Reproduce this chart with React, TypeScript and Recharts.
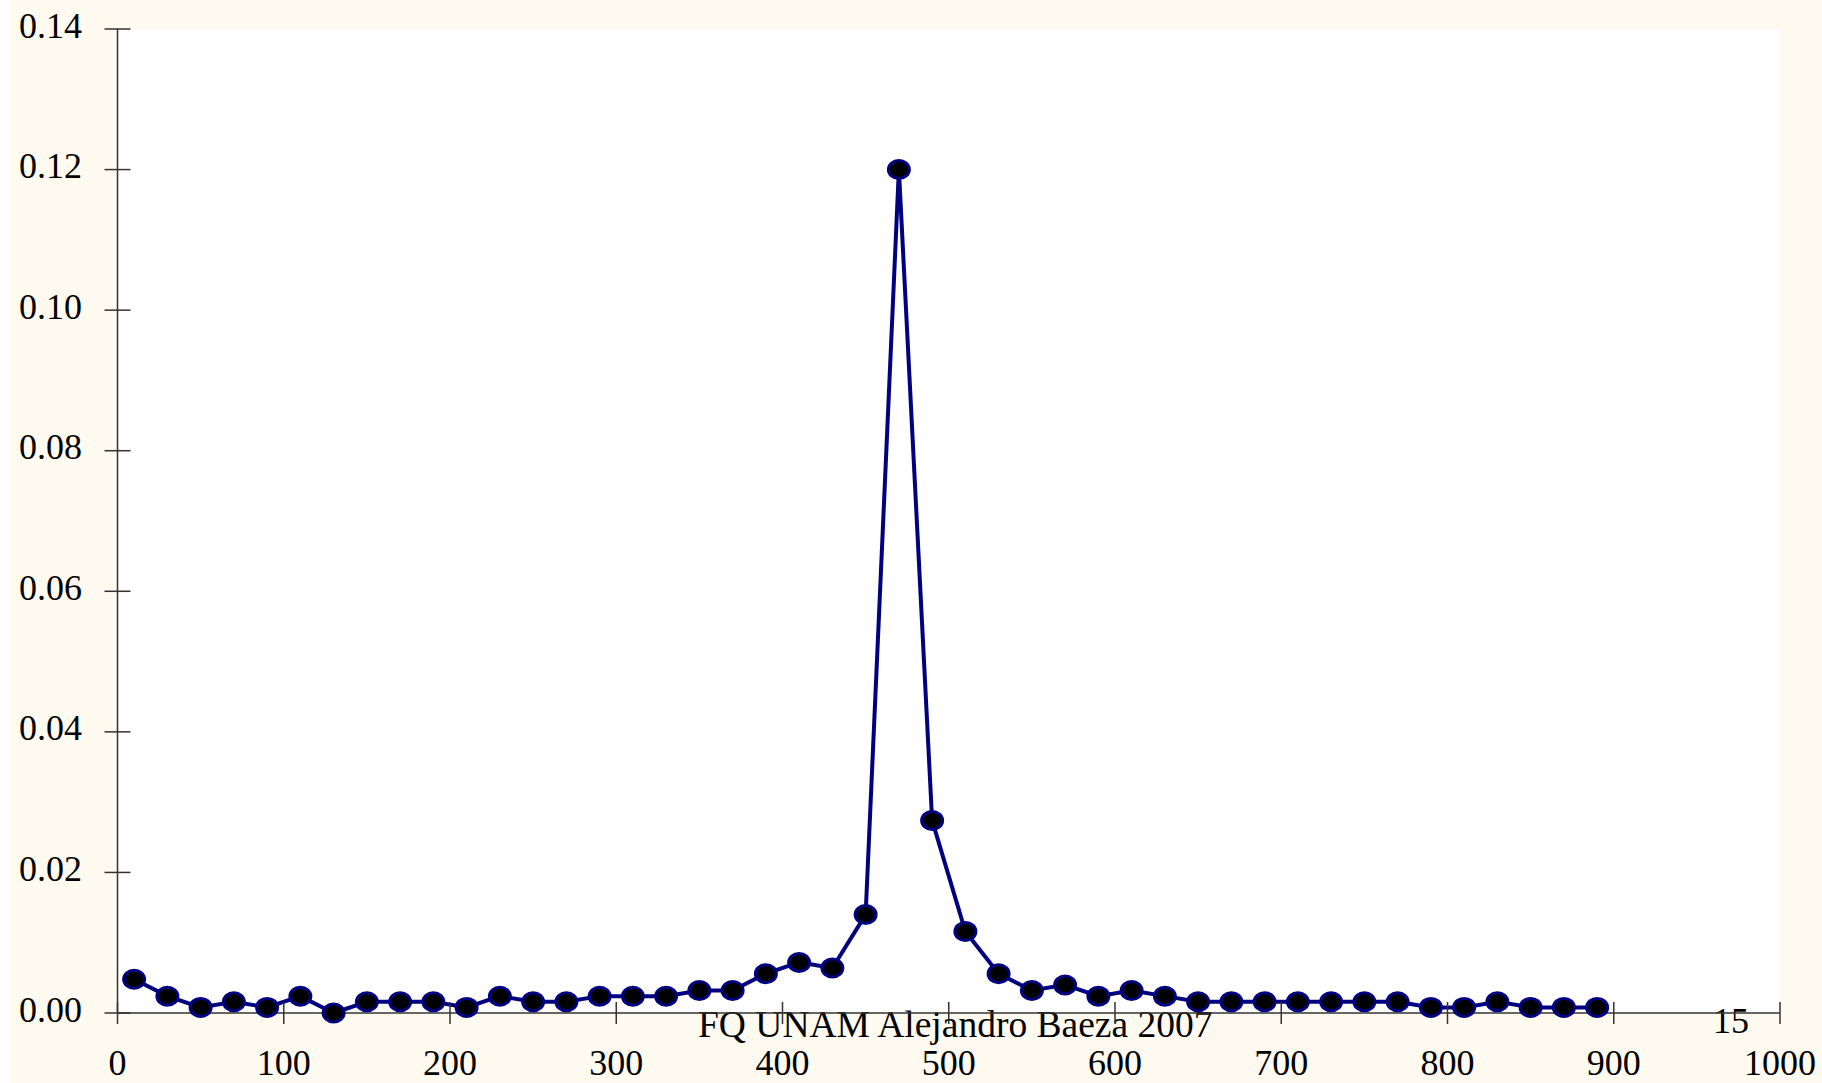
import { LineChart, Line, XAxis, YAxis, CartesianGrid } from "recharts"

const xValues = [
  10, 30, 50, 70, 90, 110, 130, 150, 170, 190,
  210, 230, 250, 270, 290, 310, 330, 350, 370, 390,
  410, 430, 450, 470, 490, 510, 530, 550, 570, 590,
  610, 630, 650, 670, 690, 710, 730, 750, 770, 790,
  810, 830, 850, 870, 890,
]
const yValues = [
  0.0048, 0.0024, 0.0008, 0.0016, 0.0008, 0.0024, 0, 0.0016, 0.0016, 0.0016,
  0.0008, 0.0024, 0.0016, 0.0016, 0.0024, 0.0024, 0.0024, 0.0032, 0.0032, 0.0056,
  0.0072, 0.0064, 0.014, 0.12, 0.0274, 0.0116, 0.0056, 0.0032, 0.004, 0.0024,
  0.0032, 0.0024, 0.0016, 0.0016, 0.0016, 0.0016, 0.0016, 0.0016, 0.0016, 0.0008,
  0.0008, 0.0016, 0.0008, 0.0008, 0.0008,
]
const xTicks = [0, 100, 200, 300, 400, 500, 600, 700, 800, 900, 1000]
const yTicks = [0, 0.02, 0.04, 0.06, 0.08, 0.1, 0.12, 0.14]
const note = "FQ UNAM Alejandro Baeza 2007"
const pageNumber = "15"

const data = xValues.map((x, i) => ({ x, y: yValues[i] }))

const font = '"Liberation Serif", "Times New Roman", serif'
const axisColor = "#333"

function XTick({ x, y, payload }: any) {
  return (
    <g>
      <line x1={x} x2={x} y1={y - 11} y2={y + 11} stroke={axisColor} strokeWidth={1.5} />
      <text x={x} y={y + 62} textAnchor="middle" fontSize={36} fontFamily={font} fill="#000">
        {payload.value}
      </text>
    </g>
  )
}

function YTick({ x, y, payload }: any) {
  return (
    <g>
      <line x1={x - 13} x2={x + 13} y1={y} y2={y} stroke={axisColor} strokeWidth={1.5} />
      <text x={x - 35.5} y={y + 8.5} textAnchor="end" fontSize={36} fontFamily={font} fill="#000">
        {Number(payload.value).toFixed(2)}
      </text>
    </g>
  )
}

function Marker({ cx, cy }: any) {
  return <ellipse cx={cx} cy={cy} rx={10.5} ry={9} fill="#000" stroke="#000080" strokeWidth={3} />
}

export default function App() {
  return (
    <div style={{ position: "relative", width: 1822, height: 1083, background: "#fff" }}>
      <style>{`body{margin:0}`}</style>
      <div style={{ position: "absolute", left: 10, top: 0, width: 1812, height: 1083, background: "#FFFAF0" }}>
        <LineChart width={1812} height={1083} data={data} margin={{ top: 29, right: 42, bottom: 0, left: 0 }}>
          <CartesianGrid fill="#fff" horizontal={false} vertical={false} stroke="none" />
          <XAxis
            dataKey="x"
            type="number"
            domain={[0, 1000]}
            ticks={xTicks}
            interval={0}
            height={70}
            tickSize={0}
            tickMargin={0}
            tickLine={false}
            axisLine={{ stroke: axisColor, strokeWidth: 1.5 }}
            tick={<XTick />}
          />
          <YAxis
            dataKey="y"
            type="number"
            domain={[0, 0.14]}
            ticks={yTicks}
            interval={0}
            width={107.5}
            tickSize={0}
            tickMargin={0}
            tickLine={false}
            axisLine={{ stroke: axisColor, strokeWidth: 1.5 }}
            tick={<YTick />}
          />
          <Line
            dataKey="y"
            type="linear"
            stroke="#000080"
            strokeWidth={4}
            dot={(p: any) => <Marker key={`m-${p.index}`} cx={p.cx} cy={p.cy} />}
            activeDot={false}
            isAnimationActive={false}
          />
          <text x={688} y={1037} fontSize={37.5} fontFamily={font} fill="#000">
            {note}
          </text>
          <text x={1721} y={1033} textAnchor="middle" fontSize={36} fontFamily={font} fill="#000">
            {pageNumber}
          </text>
        </LineChart>
      </div>
    </div>
  )
}
